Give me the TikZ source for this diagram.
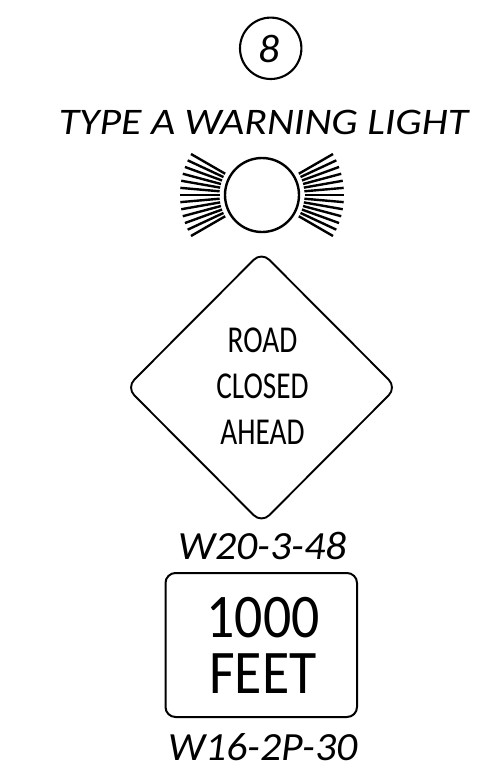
\documentclass[tikz,border=0pt]{standalone}
\usepackage{fontspec}
\setmainfont{Carlito}
\newfontfamily\capfont[FakeStretch=1.115]{Carlito}
\newfontfamily\codefont[FakeStretch=1.045]{Carlito}
\newfontfamily\signfont[FakeStretch=0.77]{Carlito}
\newfontfamily\bigfont[FakeStretch=0.9]{Carlito}
\tikzset{
  ink/.style={draw=black,line width=1.9pt},
  captext/.style={font=\capfont\fontsize{37.5}{38}\selectfont\itshape,inner sep=0pt,anchor=base},
  codetext/.style={font=\codefont\fontsize{40}{40}\selectfont\itshape,inner sep=0pt,anchor=base},
  signtext/.style={font=\signfont\fontsize{38}{38}\selectfont,inner sep=0pt,anchor=base},
  bigtext/.style={font=\bigfont\fontsize{62}{62}\selectfont,inner sep=0pt,anchor=base},
}
\begin{document}
\begin{tikzpicture}[x=1pt,y=-1pt]
\useasboundingbox (0,0) rectangle (478,774);
\fill[white] (0,0) rectangle (478,774);
\draw[ink,line width=2.1pt] (270.7,48.3) circle (30.7);
\node[codetext] at (269.5,62) {8};
\node[captext] at (263.5,134) {TYPE A WARNING LIGHT};
\draw[ink,line width=2.4pt] (262,195) circle (37);
\foreach \a in {-30,-25,...,30}{
  \draw[ink,line width=2.4pt] (262,195) ++(\a:42.5) -- ++(\a:39.5);
  \draw[ink,line width=2.4pt] (262,195) ++(180+\a:42.5) -- ++(180+\a:39.5);
}
\draw[ink,line width=1.9pt,rounded corners=11pt] (261.5,252) -- (396.5,387.5) -- (261.5,523) -- (126.5,387.5) -- cycle;
\node[signtext] at (262.5,352) {ROAD};
\node[signtext] at (262.5,398) {CLOSED};
\node[signtext] at (262.5,444) {AHEAD};
\node[codetext] at (262.5,559) {W20-3-48};
\draw[ink,line width=2pt,rounded corners=10pt] (165.5,573) rectangle (357,717);
\node[bigtext] at (263,637) {1000};
\node[bigtext] at (263,693) {FEET};
\node[codetext] at (263,760) {W16-2P-30};
\end{tikzpicture}
\end{document}
